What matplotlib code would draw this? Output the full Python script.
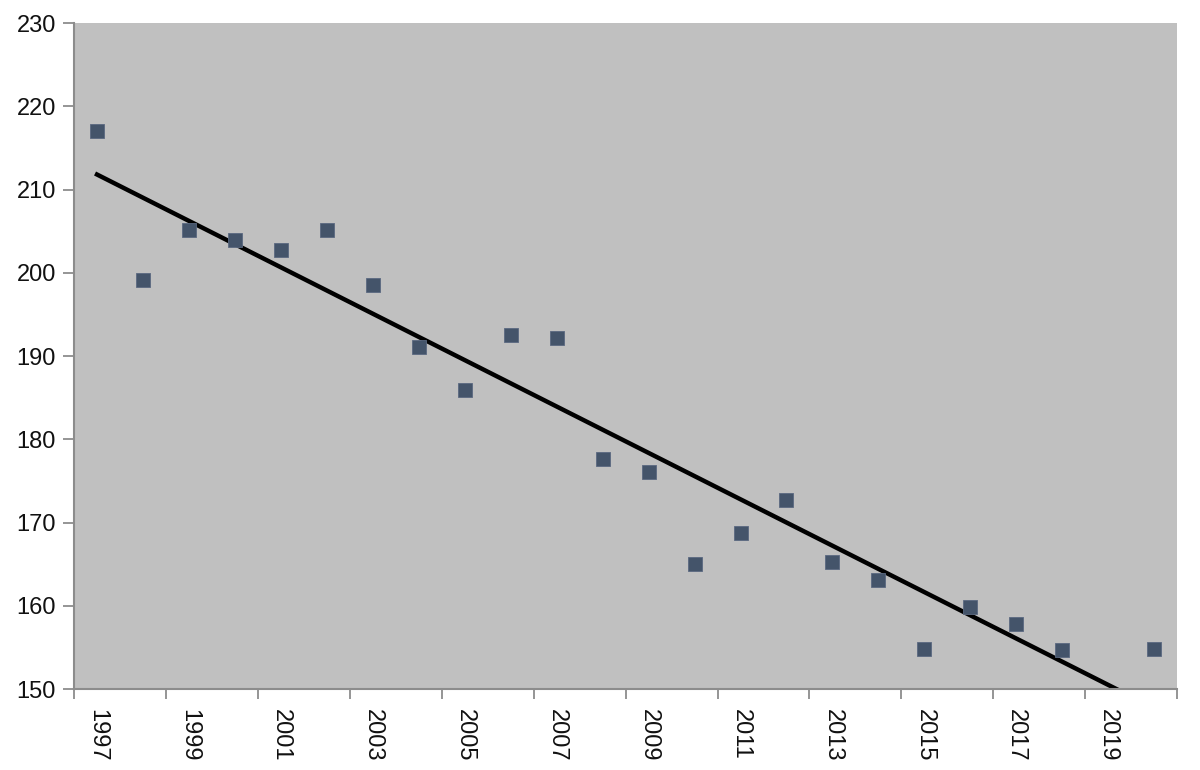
import numpy as np
import matplotlib.pyplot as plt

plt.rcParams['font.family'] = ['Liberation Sans', 'DejaVu Sans']

# yearly values (2019 has no value)
years = list(range(1997, 2021))
values = [217.1, 199.1, 205.1, 203.9, 202.8, 205.1, 198.6, 191.1, 185.9, 192.5,
          192.2, 177.6, 176.1, 165.0, 168.7, 172.7, 165.3, 163.1, 154.8, 159.9,
          157.8, 154.7, np.nan, 154.8]
yticks = [150, 160, 170, 180, 190, 200, 210, 220, 230]

x = np.arange(len(years))
y = np.array(values, dtype=float)

fig = plt.figure(figsize=(12, 7.7), dpi=100)
ax = fig.add_axes([0.0617, 0.105, 0.9193, 0.865])
ax.set_facecolor('#c0c0c0')

# linear trendline over the valid points
ok = ~np.isnan(y)
m, b = np.polyfit(x[ok], y[ok], 1)
ax.plot(x, m * x + b, color='black', lw=3.2, zorder=2)

ax.plot(x, y, 's', color='#44546a', markersize=9.5, markeredgecolor='#5a6880',
        markeredgewidth=0.6, zorder=3)

ax.set_xlim(-0.5, len(years) - 0.5)
ax.set_ylim(150, 230)
ax.set_yticks(yticks)
ax.set_yticklabels([str(t) for t in yticks])

ax.set_xticks(x[::2])
ax.set_xticklabels([str(yr) for yr in years[::2]], rotation=-90)
ax.set_xticks(np.arange(-0.5, len(years), 2), minor=True)

ax.tick_params(axis='x', which='major', length=0, pad=14, labelsize=17, labelcolor='#111111')
ax.tick_params(axis='x', which='minor', length=7, width=1.3, color='#8c8c8c', direction='out')
ax.tick_params(axis='y', length=8, width=1.3, color='#8c8c8c', pad=5, labelsize=17, labelcolor='#111111')

for s in ['top', 'right']:
    ax.spines[s].set_visible(False)
for s in ['left', 'bottom']:
    ax.spines[s].set_color('#8c8c8c')
    ax.spines[s].set_linewidth(1.5)

fig.savefig('out.png', dpi=100)
